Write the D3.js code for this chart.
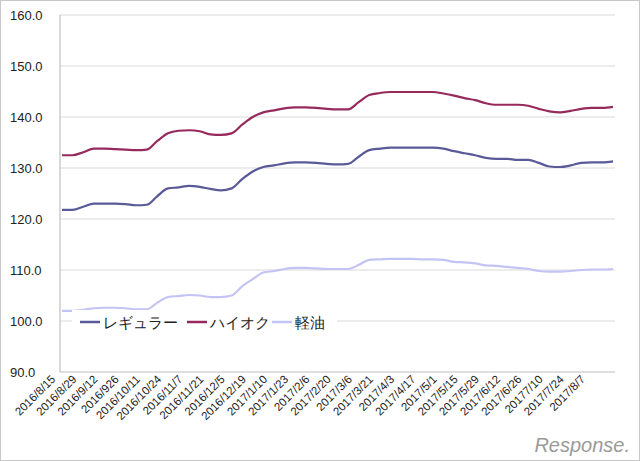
<!DOCTYPE html><html><head><meta charset="utf-8"><script src="https://cdn.jsdelivr.net/npm/d3@7"></script>
<style>body{margin:0;background:#fff}text{font-family:"Liberation Sans",Arial,sans-serif}</style></head><body>
<svg id="c" width="640" height="461"></svg>
<script>
const labels=["2016/8/15","2016/8/29","2016/9/12","2016/926","2016/10/11","2016/10/24","2016/11/7","2016/11/21","2016/12/5","2016/12/19","2017/1/10","2017/1/23","2017/2/6","2017/2/20","2017/3/6","2017/3/21","2017/4/3","2017/4/17","2017/5/1","2017/5/15","2017/5/29","2017/6/12","2017/6/26","20177/10","2017/7/24","2017/8/7"];
const regular=[121.8,121.8,122.4,123.0,123.0,123.0,122.9,122.7,122.8,124.5,126.0,126.2,126.5,126.3,125.9,125.6,126.0,127.8,129.3,130.2,130.5,130.9,131.1,131.1,131.0,130.8,130.7,130.8,132.2,133.5,133.8,134.0,134.0,134.0,134.0,134.0,133.8,133.3,132.9,132.5,132.0,131.8,131.8,131.6,131.6,131.0,130.3,130.2,130.5,131.0,131.1,131.1,131.3];
const premium=[132.5,132.5,133.1,133.8,133.8,133.7,133.6,133.5,133.6,135.3,136.8,137.3,137.4,137.2,136.6,136.5,136.8,138.5,140.0,140.9,141.3,141.7,141.9,141.9,141.8,141.6,141.5,141.5,142.9,144.3,144.7,144.9,144.9,144.9,144.9,144.9,144.6,144.2,143.7,143.3,142.7,142.4,142.4,142.4,142.2,141.6,141.1,140.9,141.2,141.6,141.8,141.8,142.0];
const diesel=[102.0,102.0,102.2,102.5,102.6,102.6,102.5,102.3,102.3,103.6,104.7,104.9,105.1,105.0,104.7,104.7,105.0,106.8,108.2,109.5,109.8,110.2,110.4,110.4,110.3,110.2,110.2,110.2,111.0,112.0,112.1,112.2,112.2,112.2,112.1,112.1,112.0,111.6,111.5,111.3,110.9,110.8,110.6,110.4,110.2,109.8,109.7,109.7,109.8,110.0,110.1,110.1,110.2];
const yTicks=[90,100,110,120,130,140,150,160];
const svg=d3.select("#c");
svg.append("rect").attr("x",0.5).attr("y",0.5).attr("width",639).attr("height",460).attr("fill","#fff").attr("stroke","#c8c8c8");
const x=d3.scaleLinear().domain([0,regular.length-1]).range([62,613]);
const y=d3.scaleLinear().domain([90,160]).range([372,15]);
yTicks.forEach(t=>{
 if(t>90) svg.append("line").attr("x1",60).attr("x2",615).attr("y1",y(t)).attr("y2",y(t)).attr("stroke","#d9d9d9").attr("stroke-width",1.2);
 svg.append("text").attr("x",10).attr("y",y(t)+5).attr("font-size",13).attr("fill","#222").text(t.toFixed(1));
});
svg.append("line").attr("x1",60).attr("x2",60).attr("y1",15).attr("y2",372).attr("stroke","#bfbfbf").attr("stroke-width",1.2);
svg.append("line").attr("x1",60).attr("x2",615).attr("y1",372).attr("y2",372).attr("stroke","#bfbfbf").attr("stroke-width",1.2);
labels.forEach((l,i)=>{
 const px=x(i*2)-6, py=380;
 svg.append("text").attr("transform",`translate(${px},${py}) rotate(-45)`).attr("text-anchor","end").attr("font-size",11.5).attr("fill","#222").text(l);
});
const line=d3.line().x((d,i)=>x(i)).y(d=>y(d)).curve(d3.curveMonotoneX);
const series=[[regular,"#5a5a98"],[premium,"#962a5c"],[diesel,"#c3c3f5"]];
series.forEach(([d,c])=>svg.append("path").attr("d",line(d)).attr("fill","none").attr("stroke",c).attr("stroke-width",2.2));
const leg=[["レギュラー","#5a5a98",80],["ハイオク","#962a5c",187],["軽油","#c3c3f5",272]];
svg.append("rect").attr("x",72).attr("y",310).attr("width",265).attr("height",24).attr("fill","#fff");
leg.forEach(([t,c,lx])=>{
 svg.append("line").attr("x1",lx).attr("x2",lx+20).attr("y1",322).attr("y2",322).attr("stroke",c).attr("stroke-width",2.5);
 svg.append("text").attr("x",lx+23).attr("y",328).attr("font-size",15).attr("font-family","Noto Sans CJK JP").attr("fill","#222").text(t);
});
svg.append("text").attr("x",630).attr("y",452).attr("text-anchor","end").attr("font-size",20).attr("fill","#9a9a9a").attr("font-style","italic").text("Response.");
</script></body></html>
